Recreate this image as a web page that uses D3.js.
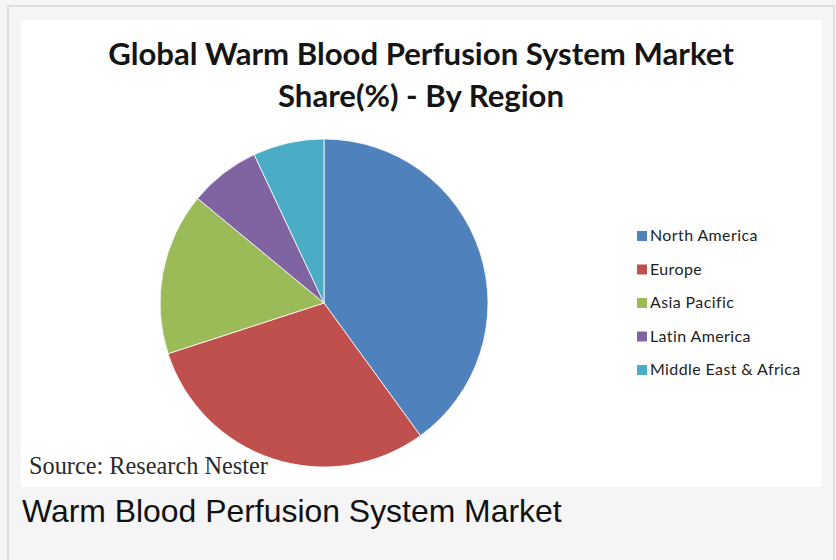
<!DOCTYPE html>
<html>
<head>
<meta charset="utf-8">
<script src="https://cdn.jsdelivr.net/npm/d3@7"></script>
<style>
  html, body { margin: 0; padding: 0; background: #f5f5f5; }
  svg { display: block; }
</style>
</head>
<body>
<script>
const regions = ["North America", "Europe", "Asia Pacific", "Latin America", "Middle East & Africa"];
const shares = [40, 30, 16, 7, 7];
const colors = ["#4F81BD", "#C0504D", "#9BBB59", "#8064A2", "#4BACC6"];
const titleLines = ["Global Warm Blood Perfusion System Market", "Share(%) - By Region"];
const sourceText = "Source: Research Nester";
const captionText = "Warm Blood Perfusion System Market";

const W = 836, H = 560;
const svg = d3.select("body").append("svg").attr("width", W).attr("height", H);

// page frame
svg.append("rect").attr("x", 0).attr("y", 0).attr("width", W).attr("height", H).attr("fill", "#f5f5f5");
svg.append("path").attr("d", `M8,${H} V6 H834 V${H}`).attr("fill", "none").attr("stroke", "#dedede").attr("stroke-width", 2);
// chart image area
svg.append("rect").attr("x", 21).attr("y", 20).attr("width", 801).attr("height", 467).attr("fill", "#ffffff");

function fit(sel, target) {
  const w = sel.node().getComputedTextLength();
  const fs = parseFloat(sel.attr("font-size"));
  sel.attr("font-size", fs * target / w);
}

// title
const tFont = "Lato, 'Open Sans', sans-serif";
const t1 = svg.append("text").attr("x", 421).attr("y", 65).attr("text-anchor", "middle")
  .attr("font-family", tFont).attr("font-weight", "bold").attr("font-size", 26).attr("fill", "#151515").text(titleLines[0]);
fit(t1, 626);
const t2 = svg.append("text").attr("x", 421).attr("y", 107).attr("text-anchor", "middle")
  .attr("font-family", tFont).attr("font-weight", "bold").attr("font-size", 26).attr("fill", "#151515").text(titleLines[1]);
t2.attr("font-size", t1.attr("font-size"));

// pie
const cx = 324, cy = 303, r = 164;
const pie = d3.pie().sort(null).value(d => d)(shares);
const arc = d3.arc().innerRadius(0).outerRadius(r);
const g = svg.append("g").attr("transform", `translate(${cx},${cy})`);
g.selectAll("path").data(pie).join("path")
  .attr("d", arc)
  .attr("fill", (d, i) => colors[i])
  .attr("stroke", "#ffffff").attr("stroke-width", 0.8);

// legend
const lg = svg.append("g");
const rowY = d3.scalePoint().domain(regions).range([236, 370]);
const items = lg.selectAll("g").data(regions).join("g")
  .attr("transform", d => `translate(637,${rowY(d)})`);
items.append("rect").attr("x", 0).attr("y", -5).attr("width", 10).attr("height", 10)
  .attr("fill", (d, i) => colors[i]);
const lt = items.append("text").attr("x", 13).attr("y", 5)
  .attr("font-family", tFont).attr("font-size", 14).attr("letter-spacing", 0.4).attr("fill", "#222").text(d => d);
{
  const node = lt.filter((d, i) => i === 4);
  const w = node.node().getComputedTextLength();
  lt.attr("font-size", 14 * 152 / w);
}

// source
const s = svg.append("text").attr("x", 29).attr("y", 474)
  .attr("font-family", "'Liberation Serif', 'Times New Roman', serif").attr("font-size", 20)
  .attr("fill", "#2a2a2a").text(sourceText);
fit(s, 239);

// caption
const c = svg.append("text").attr("x", 22).attr("y", 522)
  .attr("font-family", "'Liberation Sans', Arial, sans-serif").attr("font-size", 28)
  .attr("fill", "#111").text(captionText);
fit(c, 540);
</script>
</body>
</html>
